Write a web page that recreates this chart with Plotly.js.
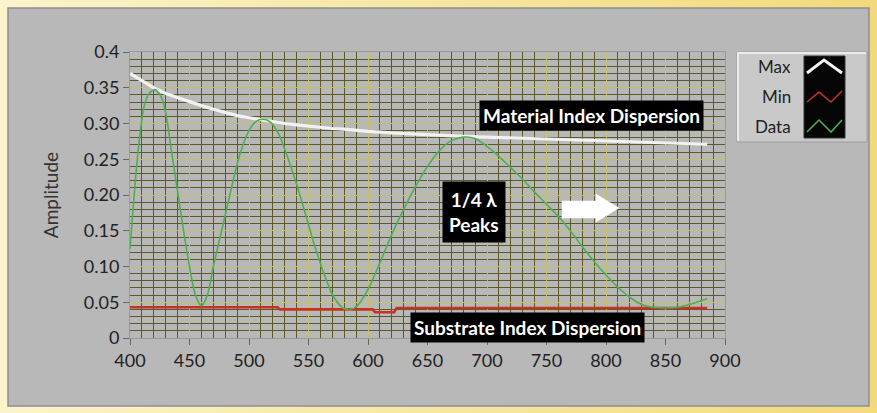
<!DOCTYPE html>
<html><head><meta charset="utf-8">
<script src="https://cdn.plot.ly/plotly-3.0.1.min.js"></script>
<style>
html,body{margin:0;padding:0;background:#f5e6a0;overflow:hidden;}
#frame{position:absolute;left:0;top:0;width:877px;height:413px;background:linear-gradient(90deg,#fbf3cc 0%,#f6e59e 55%,#f2da7c 100%);}
#chart{position:absolute;left:0;top:0;width:877px;height:413px;}
</style></head><body><div id="frame"></div><div id="chart"></div>
<script>
// ---- data ----
const seriesNames = ['Max', 'Min', 'Data'];

const maxX = [400,410,420,430,440,450,460,470,480,490,500,510,520,530,540,550,560,570,580,590,600,620,640,660,680,700,720,740,760,780,800,820,840,860,885];
const maxY = [0.370,0.360,0.350,0.342,0.336,0.330,0.325,0.320,0.315,0.311,0.308,0.305,0.302,0.300,0.298,0.296,0.294,0.293,0.292,0.290,0.289,0.287,0.285,0.283,0.282,0.281,0.280,0.279,0.277,0.276,0.275,0.274,0.273,0.272,0.271];

const minX = [400,460,524,526,604,606,622,624,700,800,885];
const minY = [0.043,0.043,0.043,0.040,0.040,0.036,0.036,0.042,0.042,0.042,0.042];

const dataX = [400,404,408,412,416,421,426,430,435,440,445,450,455,460,465,470,477,485,492,500,506,512,518,525,532,540,548,555,563,571,579,585,591,600,610,620,630,640,650,660,670,680,690,700,710,720,730,740,750,760,770,780,790,800,810,820,830,840,850,860,870,885];
const dataY = [0.125,0.210,0.280,0.325,0.342,0.347,0.338,0.315,0.260,0.205,0.150,0.100,0.060,0.045,0.060,0.100,0.150,0.208,0.255,0.290,0.303,0.306,0.302,0.285,0.255,0.215,0.170,0.130,0.090,0.058,0.042,0.040,0.045,0.068,0.105,0.145,0.180,0.212,0.240,0.262,0.276,0.281,0.279,0.268,0.254,0.238,0.222,0.204,0.187,0.170,0.150,0.128,0.107,0.088,0.071,0.057,0.047,0.043,0.042,0.043,0.047,0.055];

const xTickVals = [400,450,500,550,600,650,700,750,800,850,900];
const xTickText = ['400','450','500','550','600','650','700','750','800','850','900'];
const yTickVals = [0,0.05,0.10,0.15,0.20,0.25,0.30,0.35,0.40];
const yTickText = ['0','0.05','0.10','0.15','0.20','0.25','0.30','0.35','0.4'];

const yTitle = 'Amplitude';
const labelMaterial = 'Material Index Dispersion';
const labelPeaks = '1/4 λ<br>Peaks';
const labelSubstrate = 'Substrate Index Dispersion';

// ---- layout helpers ----
const W = 877, H = 413, ML = 130, MR = 152, MT = 52, MB = 75;
const PW = W - ML - MR, PH = H - MT - MB;
const px = x => (x - ML) / PW;
const py = y => (H - MB - y) / PH;
function pathPx(pts, close) {
  return pts.map((p, i) => (i ? 'L' : 'M') + px(p[0]).toFixed(4) + ',' + py(p[1]).toFixed(4)).join(' ') + (close ? ' Z' : '');
}
const FONT = 'Lato, "Open Sans", "DejaVu Sans", sans-serif';

const colors = ['#f2f2f2', '#c8321e', '#4fae52'];

const traces = [
  {x: maxX, y: maxY, name: seriesNames[0], mode: 'lines', line: {color: colors[0], width: 3.2}, showlegend: false},
  {x: minX, y: minY, name: seriesNames[1], mode: 'lines', line: {color: colors[1], width: 2.6}, showlegend: false},
  {x: dataX, y: dataY, name: seriesNames[2], mode: 'lines', line: {color: colors[2], width: 1.6, shape: 'spline', smoothing: 0.8}, showlegend: false}
];

const shapes = [
  // grey panel
  {type: 'rect', xref: 'paper', yref: 'paper', x0: px(8), x1: px(869), y0: py(406), y1: py(8), fillcolor: '#b8b8b8', line: {color: '#8e8e8e', width: 1.5}, layer: 'below'},
  // legend box
  {type: 'rect', xref: 'paper', yref: 'paper', x0: px(737), x1: px(867), y0: py(142), y1: py(52), fillcolor: '#c9c9c9', line: {color: '#9c9c9c', width: 1}},
  {type: 'path', xref: 'paper', yref: 'paper', path: pathPx([[738, 141], [738, 53], [866, 53]]), line: {color: '#ececec', width: 2}},
  {type: 'rect', xref: 'paper', yref: 'paper', x0: px(804), x1: px(845), y0: py(138), y1: py(56), fillcolor: '#050505', line: {color: '#333', width: 1}},
  {type: 'path', xref: 'paper', yref: 'paper', path: pathPx([[807, 73], [824, 60], [842, 73]]), line: {color: colors[0], width: 3}},
  {type: 'path', xref: 'paper', yref: 'paper', path: pathPx([[807, 102], [819, 92], [831, 102], [842, 91]]), line: {color: colors[1], width: 1.6}},
  {type: 'path', xref: 'paper', yref: 'paper', path: pathPx([[807, 132], [819, 120], [831, 132], [842, 120]]), line: {color: colors[2], width: 1.6}},
  // white block arrow
  {type: 'path', xref: 'paper', yref: 'paper', path: pathPx([[562, 201], [596, 201], [596, 194], [619, 208], [596, 222], [596, 218], [562, 218]], true), fillcolor: '#ffffff', line: {color: '#ffffff', width: 0.5}}
];

const annFont = {family: FONT, size: 19, color: '#ffffff', weight: 700};
const annotations = [
  {xref: 'paper', yref: 'paper', x: px(591), y: py(115), text: '<b>' + labelMaterial + '</b>', showarrow: false, font: annFont, bgcolor: '#000000', borderpad: 3, xanchor: 'center', yanchor: 'middle'},
  {xref: 'paper', yref: 'paper', x: px(474), y: py(212), text: '<b>' + labelPeaks + '</b>', showarrow: false, font: annFont, bgcolor: '#000000', borderpad: 6, xanchor: 'center', yanchor: 'middle'},
  {xref: 'paper', yref: 'paper', x: px(527), y: py(327), text: '<b>' + labelSubstrate + '</b>', showarrow: false, font: annFont, bgcolor: '#000000', borderpad: 3, xanchor: 'center', yanchor: 'middle'}
];
const legendRows = [67, 97, 126];
seriesNames.forEach((n, i) => {
  annotations.push({xref: 'paper', yref: 'paper', x: px(793), y: py(legendRows[i]), text: n, showarrow: false, font: {family: FONT, size: 17, color: '#222'}, xanchor: 'right', yanchor: 'middle'});
});

const gridMinor = '#5c5a27';
const gridMajor = '#c2c06c';

const layout = {
  width: W, height: H,
  margin: {l: ML, r: MR, t: MT, b: MB, pad: 0},
  paper_bgcolor: 'rgba(0,0,0,0)',
  plot_bgcolor: '#000000',
  font: {family: FONT, color: '#222'},
  showlegend: false,
  xaxis: {
    range: [400, 900], tickvals: xTickVals, ticktext: xTickText,
    ticks: 'outside', ticklen: 6, tickcolor: '#666', tickwidth: 1,
    tickfont: {size: 18, color: '#222'},
    showgrid: true, gridcolor: gridMajor, gridwidth: 1,
    minor: {dtick: 10, showgrid: true, gridcolor: gridMinor, gridwidth: 1, ticks: ''},
    zeroline: false, showline: true, linecolor: '#9a9a9a', linewidth: 1, mirror: true
  },
  yaxis: {
    range: [0, 0.4], tickvals: yTickVals, ticktext: yTickText,
    ticks: 'outside', ticklen: 6, tickcolor: '#666', tickwidth: 1,
    tickfont: {size: 18, color: '#222'},
    showgrid: true, gridcolor: gridMajor, gridwidth: 1,
    minor: {dtick: 0.01, showgrid: true, gridcolor: gridMinor, gridwidth: 1, ticks: ''},
    zeroline: false, showline: true, linecolor: '#9a9a9a', linewidth: 1, mirror: true,
    title: {text: yTitle, font: {size: 19, color: '#333'}, standoff: 20}
  },
  shapes: shapes,
  annotations: annotations
};

Plotly.newPlot('chart', traces, layout, {displayModeBar: false, staticPlot: true});
</script>
</body></html>
